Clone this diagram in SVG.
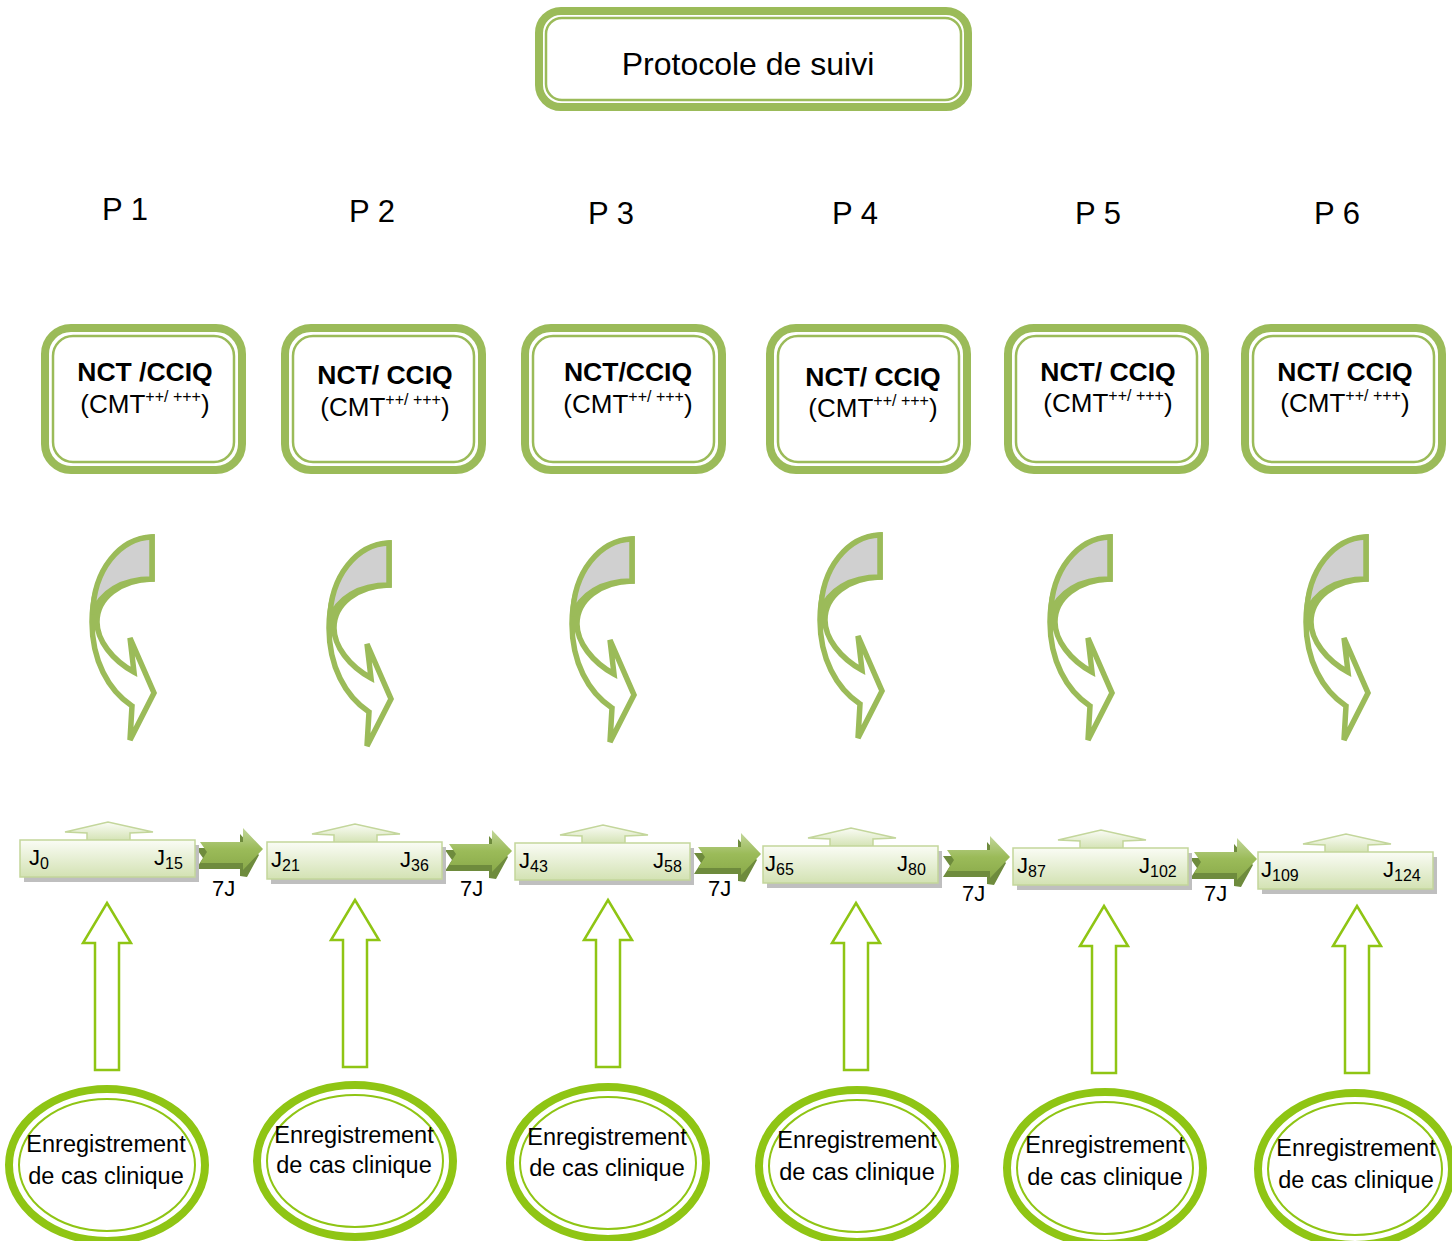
<svg xmlns="http://www.w3.org/2000/svg" xmlns:xlink="http://www.w3.org/1999/xlink" width="1452" height="1241" viewBox="0 0 1452 1241">
<style>
.t{font-family:"Liberation Sans",Arial,sans-serif;fill:#000}
.frame{fill:#fff;stroke:#9BBB59;stroke-width:8}
.inner{fill:none;stroke:#9BBB59;stroke-width:2.5}
.curv{fill:#fff;stroke:#9BBB59;stroke-width:5.5;stroke-linejoin:miter}
.curvg{fill:#D0D0D0;stroke:#9BBB59;stroke-width:5.5}
.up{fill:#fff;stroke:#8FC514;stroke-width:2.5}
.ell{fill:#fff;stroke:#8FC514;stroke-width:8}
.ell2{fill:none;stroke:#8FC514;stroke-width:2}
.tbox{fill:url(#gbox);stroke:#C3D69B;stroke-width:1.5}
.sh{fill:#BFBFBF}
.lbl{font-family:"Liberation Sans",Arial,sans-serif;font-size:22px;fill:#000}
.nb{font-size:26.5px;font-weight:bold}
.nc{font-size:26px}
.sup{font-size:16px}
.en{font-size:23.5px}
</style>
<defs>
<linearGradient id="gbox" x1="0" y1="0" x2="0" y2="1">
<stop offset="0" stop-color="#FAFCF5"/>
<stop offset="1" stop-color="#D3E2B3"/>
</linearGradient>
<linearGradient id="gchev" x1="0" y1="0" x2="0" y2="1">
<stop offset="0" stop-color="#C2D69A"/>
<stop offset="0.5" stop-color="#9BBB59"/>
<stop offset="1" stop-color="#8AAA4A"/>
</linearGradient>
<g id="curved">
<path class="curv" d="M152,537 C118,540 92,575 92,622 C92,660 108,690 132,706 L130,740 L154,693 L130,638 L134,672 C112,660 97,640 97,622 C97,598 120,580 152,579 Z"/>
<path class="curvg" d="M152,537 C120,538 93,570 93,614 C100,592 122,579 152,579 Z"/>
</g>
<g id="tl">
<rect class="sh" x="24" y="845" width="175" height="37"/>
<path class="tbox" d="M65,832 L108,822 L153,832 L130,833 L130,841 L87,841 L87,833 Z"/>
<rect class="tbox" x="20" y="840" width="175" height="37"/>
</g>
<g id="chev">
<path fill="#6E8B3D" d="M196,848 L240,848 L240,834 L259,855 L247,877 L240,876 L240,869 L196,869 L203,858 Z"/>
<path fill="url(#gchev)" d="M200,842 L243,842 L243,828 L263,849 L243,870 L243,863 L200,863 L207,852 Z"/>
</g>
<g id="uparr">
<path class="up" d="M107,903 L131,943 L119,943 L119,1070 L95,1070 L95,943 L83,943 Z"/>
</g>
</defs>

<g id="title">
<rect class="frame" x="539" y="11" width="429" height="96" rx="22"/>
<rect class="inner" x="546" y="18" width="415" height="82" rx="16"/>
<text class="t" x="748" y="75" font-size="32" text-anchor="middle">Protocole de suivi</text>
</g>

<g id="plabels">
<text class="t" x="125" y="220" font-size="31" text-anchor="middle">P 1</text>
<text class="t" x="372" y="222" font-size="31" text-anchor="middle">P 2</text>
<text class="t" x="611" y="224" font-size="31" text-anchor="middle">P 3</text>
<text class="t" x="855" y="224" font-size="31" text-anchor="middle">P 4</text>
<text class="t" x="1098" y="224" font-size="31" text-anchor="middle">P 5</text>
<text class="t" x="1337" y="224" font-size="31" text-anchor="middle">P 6</text>
</g>

<g id="nct1">
<rect class="frame" x="45" y="328" width="197" height="142" rx="26"/>
<rect class="inner" x="53" y="336" width="181" height="126" rx="20"/>
<text class="t nb" x="145" y="381" text-anchor="middle">NCT /CCIQ</text>
<text class="t nc" x="145" y="413" text-anchor="middle">(CMT<tspan class="sup" dy="-11">++/ +++</tspan><tspan dy="11">)</tspan></text>
</g>
<g id="nct2">
<rect class="frame" x="285" y="328" width="197" height="142" rx="26"/>
<rect class="inner" x="293" y="336" width="181" height="126" rx="20"/>
<text class="t nb" x="385" y="384" text-anchor="middle">NCT/ CCIQ</text>
<text class="t nc" x="385" y="416" text-anchor="middle">(CMT<tspan class="sup" dy="-11">++/ +++</tspan><tspan dy="11">)</tspan></text>
</g>
<g id="nct3">
<rect class="frame" x="525" y="328" width="197" height="142" rx="26"/>
<rect class="inner" x="533" y="336" width="181" height="126" rx="20"/>
<text class="t nb" x="628" y="381" text-anchor="middle">NCT/CCIQ</text>
<text class="t nc" x="628" y="413" text-anchor="middle">(CMT<tspan class="sup" dy="-11">++/ +++</tspan><tspan dy="11">)</tspan></text>
</g>
<g id="nct4">
<rect class="frame" x="770" y="328" width="197" height="142" rx="26"/>
<rect class="inner" x="778" y="336" width="181" height="126" rx="20"/>
<text class="t nb" x="873" y="386" text-anchor="middle">NCT/ CCIQ</text>
<text class="t nc" x="873" y="417" text-anchor="middle">(CMT<tspan class="sup" dy="-11">++/ +++</tspan><tspan dy="11">)</tspan></text>
</g>
<g id="nct5">
<rect class="frame" x="1008" y="328" width="197" height="142" rx="26"/>
<rect class="inner" x="1016" y="336" width="181" height="126" rx="20"/>
<text class="t nb" x="1108" y="381" text-anchor="middle">NCT/ CCIQ</text>
<text class="t nc" x="1108" y="412" text-anchor="middle">(CMT<tspan class="sup" dy="-11">++/ +++</tspan><tspan dy="11">)</tspan></text>
</g>
<g id="nct6">
<rect class="frame" x="1245" y="328" width="197" height="142" rx="26"/>
<rect class="inner" x="1253" y="336" width="181" height="126" rx="20"/>
<text class="t nb" x="1345" y="381" text-anchor="middle">NCT/ CCIQ</text>
<text class="t nc" x="1345" y="412" text-anchor="middle">(CMT<tspan class="sup" dy="-11">++/ +++</tspan><tspan dy="11">)</tspan></text>
</g>

<g id="connectors">
<use xlink:href="#curved"/>
<use xlink:href="#curved" transform="translate(237,6)"/>
<use xlink:href="#curved" transform="translate(480,2)"/>
<use xlink:href="#curved" transform="translate(728,-2)"/>
<use xlink:href="#curved" transform="translate(958,0)"/>
<use xlink:href="#curved" transform="translate(1214,0)"/>
<use xlink:href="#chev"/>
<use xlink:href="#chev" transform="translate(249,2)"/>
<use xlink:href="#chev" transform="translate(498,5)"/>
<use xlink:href="#chev" transform="translate(747,8)"/>
<use xlink:href="#chev" transform="translate(994,10)"/>
<text class="lbl" x="212" y="896">7J</text>
<text class="lbl" x="460" y="896">7J</text>
<text class="lbl" x="708" y="896">7J</text>
<text class="lbl" x="962" y="901">7J</text>
<text class="lbl" x="1204" y="901">7J</text>
<use xlink:href="#uparr"/>
<use xlink:href="#uparr" transform="translate(248,-3)"/>
<use xlink:href="#uparr" transform="translate(501,-3)"/>
<use xlink:href="#uparr" transform="translate(749,0)"/>
<use xlink:href="#uparr" transform="translate(997,3)"/>
<use xlink:href="#uparr" transform="translate(1250,3)"/>
</g>

<g id="tl1"><use xlink:href="#tl"/>
<text class="lbl" x="29" y="865">J<tspan font-size="16" dy="4">0</tspan></text>
<text class="lbl" x="154" y="865">J<tspan font-size="16" dy="4">15</tspan></text></g>
<g id="tl2"><use xlink:href="#tl" transform="translate(247,2)"/>
<text class="lbl" x="271" y="867">J<tspan font-size="16" dy="4">21</tspan></text>
<text class="lbl" x="400" y="867">J<tspan font-size="16" dy="4">36</tspan></text></g>
<g id="tl3"><use xlink:href="#tl" transform="translate(495,3)"/>
<text class="lbl" x="519" y="868">J<tspan font-size="16" dy="4">43</tspan></text>
<text class="lbl" x="653" y="868">J<tspan font-size="16" dy="4">58</tspan></text></g>
<g id="tl4"><use xlink:href="#tl" transform="translate(743,6)"/>
<text class="lbl" x="765" y="871">J<tspan font-size="16" dy="4">65</tspan></text>
<text class="lbl" x="897" y="871">J<tspan font-size="16" dy="4">80</tspan></text></g>
<g id="tl5"><use xlink:href="#tl" transform="translate(993,8)"/>
<text class="lbl" x="1017" y="873">J<tspan font-size="16" dy="4">87</tspan></text>
<text class="lbl" x="1139" y="873">J<tspan font-size="16" dy="4">102</tspan></text></g>
<g id="tl6"><use xlink:href="#tl" transform="translate(1238,12)"/>
<text class="lbl" x="1261" y="877">J<tspan font-size="16" dy="4">109</tspan></text>
<text class="lbl" x="1383" y="877">J<tspan font-size="16" dy="4">124</tspan></text></g>

<g id="enr1">
<ellipse class="ell" cx="107" cy="1165" rx="98" ry="76"/>
<ellipse class="ell2" cx="107" cy="1165" rx="88" ry="66"/>
<text class="t en" x="106" y="1152" text-anchor="middle">Enregistrement</text>
<text class="t en" x="106" y="1184" text-anchor="middle">de cas clinique</text>
</g>
<g id="enr2">
<ellipse class="ell" cx="355" cy="1161" rx="98" ry="76"/>
<ellipse class="ell2" cx="355" cy="1161" rx="88" ry="66"/>
<text class="t en" x="354" y="1143" text-anchor="middle">Enregistrement</text>
<text class="t en" x="354" y="1173" text-anchor="middle">de cas clinique</text>
</g>
<g id="enr3">
<ellipse class="ell" cx="608" cy="1163" rx="98" ry="76"/>
<ellipse class="ell2" cx="608" cy="1163" rx="88" ry="66"/>
<text class="t en" x="607" y="1145" text-anchor="middle">Enregistrement</text>
<text class="t en" x="607" y="1176" text-anchor="middle">de cas clinique</text>
</g>
<g id="enr4">
<ellipse class="ell" cx="857" cy="1166" rx="98" ry="76"/>
<ellipse class="ell2" cx="857" cy="1166" rx="88" ry="66"/>
<text class="t en" x="857" y="1148" text-anchor="middle">Enregistrement</text>
<text class="t en" x="857" y="1180" text-anchor="middle">de cas clinique</text>
</g>
<g id="enr5">
<ellipse class="ell" cx="1105" cy="1168" rx="98" ry="76"/>
<ellipse class="ell2" cx="1105" cy="1168" rx="88" ry="66"/>
<text class="t en" x="1105" y="1153" text-anchor="middle">Enregistrement</text>
<text class="t en" x="1105" y="1185" text-anchor="middle">de cas clinique</text>
</g>
<g id="enr6">
<ellipse class="ell" cx="1355" cy="1169" rx="97" ry="76"/>
<ellipse class="ell2" cx="1355" cy="1169" rx="87" ry="66"/>
<text class="t en" x="1356" y="1156" text-anchor="middle">Enregistrement</text>
<text class="t en" x="1356" y="1188" text-anchor="middle">de cas clinique</text>
</g>
</svg>
